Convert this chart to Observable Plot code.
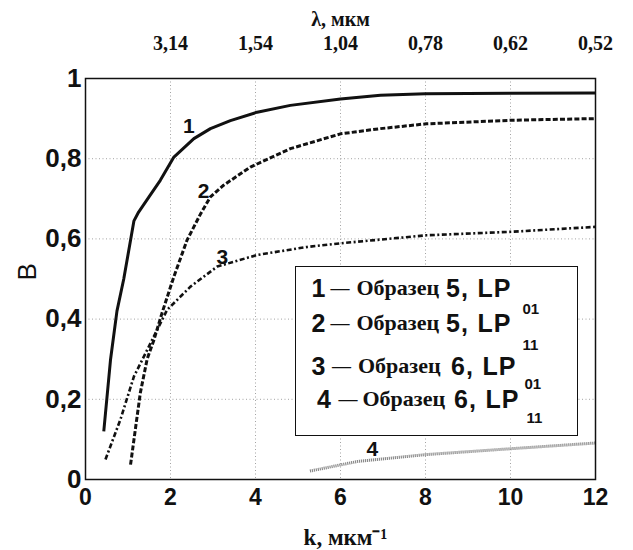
<!DOCTYPE html>
<html><head><meta charset="utf-8">
<script src="https://cdn.jsdelivr.net/npm/d3@7"></script>
<script src="https://cdn.jsdelivr.net/npm/@observablehq/plot@0.6"></script>
<style>
body{margin:0;background:#fff;}
#wrap{position:relative;width:633px;height:550px;overflow:hidden;}
#legend{position:absolute;left:295px;top:266px;width:283px;height:170px;border:1.5px solid #111;background:#fff;box-sizing:border-box;}
.piece{position:absolute;white-space:nowrap;line-height:26px;height:26px;color:#111;}
.sn{font-family:"Liberation Sans",Arial,sans-serif;font-weight:bold;font-size:25px;}
.lp{letter-spacing:1.2px;}
.sf{font-family:"Liberation Serif","Times New Roman",serif;font-weight:bold;font-size:22px;}
.dash{font-family:"Liberation Serif","Times New Roman",serif;font-weight:bold;font-size:19px;}
.sub{font-family:"Liberation Sans",Arial,sans-serif;font-weight:bold;font-size:15px;line-height:16px;height:16px;}
</style></head>
<body><div id="wrap"></div>
<script>
// Curve 1 — sample 5, LP01
const k1 = [0.43, 0.59, 0.74, 0.90, 1.14, 1.25, 1.49, 1.76, 2.08, 2.55, 2.94, 3.41, 4.04, 4.82, 6.0, 6.94, 8.0, 10.0, 12.0];
const b1 = [0.12, 0.30, 0.42, 0.50, 0.645, 0.667, 0.704, 0.746, 0.804, 0.85, 0.875, 0.895, 0.916, 0.933, 0.949, 0.958, 0.962, 0.963, 0.964];
// Curve 2 — sample 5, LP11
const k2 = [1.06, 1.29, 1.45, 1.61, 1.80, 2.08, 2.39, 2.71, 2.94, 3.25, 3.88, 4.82, 6.0, 6.94, 8.02, 10.07, 12.0];
const b2 = [0.037, 0.216, 0.30, 0.348, 0.415, 0.506, 0.597, 0.663, 0.705, 0.734, 0.779, 0.825, 0.862, 0.875, 0.887, 0.896, 0.90];
// Curve 3 — sample 6, LP01
const k3 = [0.47, 0.82, 1.14, 1.53, 1.92, 2.47, 3.10, 4.04, 5.22, 6.0, 8.02, 10.07, 12.0];
const b3 = [0.05, 0.149, 0.257, 0.34, 0.423, 0.481, 0.531, 0.56, 0.58, 0.589, 0.609, 0.618, 0.63];
// Curve 4 — sample 6, LP11
const k4 = [5.28, 6.4, 8.0, 9.9, 12.0];
const b4 = [0.021, 0.045, 0.062, 0.076, 0.091];

const curveNames = ["1", "2", "3", "4"];
const labelK = [2.43, 2.78, 3.22, 6.75];
const labelB = [0.881, 0.72, 0.555, 0.076];

const bottomTicks = [0, 2, 4, 6, 8, 10, 12];
const topTicks = [2, 4, 6, 8, 10, 12];
const topLabels = ["3,14", "1,54", "1,04", "0,78", "0,62", "0,52"];
const yTicks = [0, 0.2, 0.4, 0.6, 0.8, 1];
const yLabels = ["0", "0,2", "0,4", "0,6", "0,8", "1"];
const gridK = [2, 4, 6, 8, 10];
const gridB = [0.2, 0.4, 0.6, 0.8];

const legendNum = ["1", "2", "3", "4"];
const legendWord = "Образец";
const legendSample = ["5", "5", "6", "6"];
const legendMode = ["01", "11", "01", "11"];

const topTitle = "λ, мкм";
const bottomTitle = "k, мкм⁻¹";
const yTitle = "B";

const toRows = (ks, bs) => ks.map((k, i) => ({k, B: bs[i]}));
const c1 = toRows(k1, b1), c2 = toRows(k2, b2), c3 = toRows(k3, b3), c4 = toRows(k4, b4);
const labels = curveNames.map((t, i) => ({t, k: labelK[i], B: labelB[i]}));
const topMap = new Map(topTicks.map((t, i) => [t, topLabels[i]]));
const yMap = new Map(yTicks.map((t, i) => [t, yLabels[i]]));

const sans = "Liberation Sans, Arial, sans-serif";
const serif = "Liberation Serif, Times New Roman, serif";
const lineBase = {x: "k", y: "B", strokeLinecap: "butt", strokeLinejoin: "round"};

const plot = Plot.plot({
  width: 633, height: 550,
  marginLeft: 85, marginRight: 38, marginTop: 78, marginBottom: 71,
  x: {domain: [0, 12]},
  y: {domain: [0, 1]},
  style: {background: "white", color: "#111"},
  marks: [
    Plot.gridX(gridK, {stroke: "#999", strokeOpacity: 0.9, strokeWidth: 1, strokeDasharray: "1,2.5"}),
    Plot.gridY(gridB, {stroke: "#999", strokeOpacity: 0.9, strokeWidth: 1, strokeDasharray: "1,2.5"}),
    Plot.line(c4, {...lineBase, stroke: "#8a8a8a", strokeWidth: 3, strokeDasharray: "1.2,0.8"}),
    Plot.line(c3, {...lineBase, stroke: "#111", strokeWidth: 2.6, strokeDasharray: "5,2.5,2,2.5"}),
    Plot.line(c2, {...lineBase, stroke: "#111", strokeWidth: 3, strokeDasharray: "5,2.2"}),
    Plot.line(c1, {...lineBase, stroke: "#111", strokeWidth: 3}),
    Plot.text(labels, {x: "k", y: "B", text: "t", fontSize: 21, fontWeight: "bold", fontFamily: sans, fill: "#111"}),
    Plot.frame({stroke: "#111", strokeWidth: 1.5}),
    Plot.axisX({anchor: "bottom", ticks: bottomTicks, tickSize: 0, tickPadding: 9, fontSize: 23, fontWeight: "bold", fontFamily: sans, label: null, tickFormat: d => String(d)}),
    Plot.axisX({anchor: "top", ticks: topTicks, tickSize: 0, tickPadding: 29, fontSize: 20, fontWeight: "bold", fontFamily: serif, label: null, tickFormat: d => topMap.get(d)}),
    Plot.axisY({anchor: "left", ticks: yTicks, tickSize: 0, tickPadding: 4, fontSize: 26, fontWeight: "bold", fontFamily: sans, label: null, tickFormat: d => yMap.get(d)}),
    Plot.text([topTitle], {text: d => d, frameAnchor: "top", lineAnchor: "middle", dy: -59, fontSize: 20, fontWeight: "bold", fontFamily: serif}),
    Plot.text([bottomTitle], {text: d => d, frameAnchor: "bottom", lineAnchor: "middle", dy: 58, dx: 5, fontSize: 23, fontWeight: "bold", fontFamily: serif, letterSpacing: 1}),
    Plot.text([yTitle], {text: d => d, frameAnchor: "left", dx: -58, dy: 1.5, rotate: -90, fontSize: 26, fontFamily: sans})
  ]
});
const wrap = document.getElementById("wrap");
wrap.appendChild(plot);

// legend layout (pixel offsets inside the box)
const legend = document.createElement("div");
legend.id = "legend";
const rowTop = [7.5, 42.5, 85.5, 118.5];
const numX = [15.5, 15.5, 15.5, 21];
const dashX = [34.5, 34.5, 36, 42.5];
const wordX = [60.5, 60.5, 62, 66.5];
const sampX = [150, 150, 155, 158];
const subX = [226.5, 226.5, 228.5, 230.5];
const subDy = [21, 22, 18, 19];
const add = (cls, txt, x, y) => {
  const s = document.createElement("span");
  s.className = "piece " + cls;
  s.textContent = txt;
  s.style.left = x + "px";
  s.style.top = y + "px";
  legend.appendChild(s);
};
legendNum.forEach((n, i) => {
  add("sn", n, numX[i], rowTop[i]);
  add("dash", "—", dashX[i], rowTop[i]);
  add("sf", legendWord, wordX[i], rowTop[i]);
  add("sn lp", legendSample[i] + ", LP", sampX[i], rowTop[i]);
  add("sub", legendMode[i], subX[i], rowTop[i] + 13 + subDy[i] - 8);
});
wrap.appendChild(legend);
</script>
</body></html>
